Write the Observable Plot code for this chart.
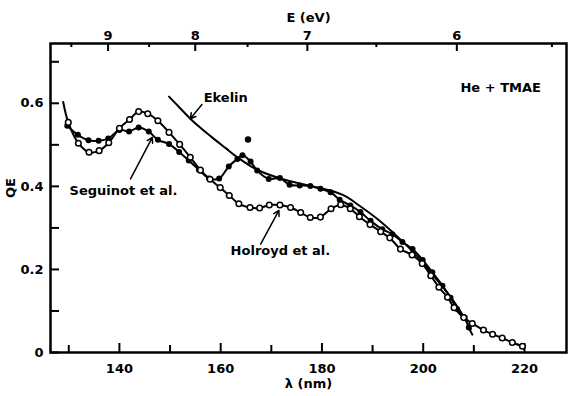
<!DOCTYPE html>
<html>
<head>
<meta charset="utf-8">
<script src="https://cdn.jsdelivr.net/npm/d3@7"></script>
<script src="https://cdn.jsdelivr.net/npm/@observablehq/plot@0.6"></script>
<style>
  html, body { margin: 0; padding: 0; background: #fff; }
  #chart svg { display: block; }
</style>
</head>
<body>
<div id="chart"></div>
<script>
// ---- data ----
const hc = 1239.84; // eV·nm, converts photon energy to wavelength

// Holroyd et al. (open circles); first point is the line lead-in without marker
const holroydLambda = [128.9, 129.9, 131.9, 134.0, 136.0, 137.9, 140.0, 142.0, 143.8, 145.6, 147.6, 149.8, 151.9, 154.0, 156.0, 157.9, 159.9, 161.7, 163.6, 165.8, 167.7, 169.6, 171.7, 173.8, 175.8, 177.7, 179.7, 181.8, 183.7, 185.6, 187.4, 189.5, 191.6, 193.4, 195.5, 197.8, 199.8, 201.5, 203.1, 204.8, 206.1, 208.0, 209.7, 211.9, 213.7, 215.6, 217.6, 219.6];
const holroydQE     = [0.603, 0.554, 0.504, 0.482, 0.486, 0.505, 0.540, 0.561, 0.580, 0.575, 0.558, 0.530, 0.501, 0.470, 0.439, 0.417, 0.397, 0.378, 0.358, 0.349, 0.348, 0.355, 0.355, 0.349, 0.337, 0.325, 0.326, 0.346, 0.356, 0.346, 0.327, 0.308, 0.291, 0.276, 0.249, 0.235, 0.214, 0.185, 0.157, 0.133, 0.108, 0.084, 0.070, 0.054, 0.044, 0.035, 0.024, 0.015];

// Seguinot et al. (filled dots); last point is the line end without marker
const seguinotLambda = [129.7, 131.8, 133.9, 135.9, 137.8, 140.0, 141.9, 143.8, 145.8, 147.6, 149.8, 151.8, 153.7, 155.7, 157.7, 159.7, 161.6, 163.3, 164.3, 165.9, 167.2, 169.5, 171.7, 173.6, 175.6, 177.7, 179.7, 181.7, 183.5, 185.6, 187.6, 189.6, 191.9, 193.9, 195.9, 197.9, 199.9, 201.8, 203.8, 205.4, 206.7, 208.2, 209.0, 209.7];
const seguinotQE     = [0.546, 0.524, 0.511, 0.510, 0.515, 0.536, 0.532, 0.542, 0.532, 0.512, 0.502, 0.483, 0.462, 0.440, 0.419, 0.419, 0.448, 0.466, 0.475, 0.460, 0.438, 0.418, 0.420, 0.404, 0.402, 0.401, 0.394, 0.386, 0.368, 0.354, 0.338, 0.317, 0.297, 0.285, 0.266, 0.249, 0.223, 0.193, 0.161, 0.132, 0.105, 0.084, 0.060, 0.043];

// isolated Seguinot point above the curve
const strayLambda = [165.4];
const strayQE     = [0.513];

// Ekelin (smooth line, no markers)
const ekelinLambda = [149.8, 152.1, 154.0, 156.0, 158.6, 161.0, 163.3, 167.2, 171.8, 177.1, 181.7, 184.7, 187.0, 190.9, 194.9, 198.8, 202.1, 205.4, 207.4, 209.4];
const ekelinQE     = [0.616, 0.587, 0.563, 0.541, 0.515, 0.492, 0.470, 0.440, 0.419, 0.403, 0.390, 0.376, 0.357, 0.322, 0.279, 0.232, 0.184, 0.134, 0.098, 0.056];

// axes
const xTicksMajor = [140, 160, 180, 200, 220];
const xTicksMinor = [130, 150, 170, 190, 210];
const yTickLabels = [0, 0.2, 0.4, 0.6];
const yTicksAll   = [0, 0.1, 0.2, 0.3, 0.4, 0.5, 0.6, 0.7];
const eTicksMajor = [9, 8, 7, 6];
const eTicksMinor = [9.5, 8.5, 7.5, 6.5, 5.5];

// annotations (data coordinates: wavelength nm, QE)
const labelText   = ["Ekelin", "He + TMAE", "Seguinot et al.", "Holroyd et al."];
const labelLambda = [161.0, 215.3, 140.8, 171.8];
const labelQE     = [0.614, 0.638, 0.390, 0.245];
const arrowFromLambda = [156.3, 142.2, 167.9];
const arrowFromQE     = [0.597, 0.418, 0.261];
const arrowToLambda   = [154.0, 146.5, 171.5];
const arrowToQE       = [0.563, 0.518, 0.342];

// ---- build tables ----
const zip = (xs, ys) => xs.map((x, i) => ({x, y: ys[i]}));
const holroyd  = zip(holroydLambda, holroydQE);
const seguinot = zip(seguinotLambda, seguinotQE);
const stray    = zip(strayLambda, strayQE);
const ekelin   = zip(ekelinLambda, ekelinQE);
const labels   = labelText.map((t, i) => ({t, x: labelLambda[i], y: labelQE[i]}));
const arrows   = arrowFromLambda.map((x1, i) => ({x1, y1: arrowFromQE[i], x2: arrowToLambda[i], y2: arrowToQE[i]}));

const W = 574, H = 396;
const mL = 50, mR = 8, mT = 43, mB = 44;
const pw = W - mL - mR, ph = H - mT - mB;
const FONT = "'DejaVu Sans', 'Liberation Sans', sans-serif";

const chart = Plot.plot({
  width: W,
  height: H,
  marginLeft: mL,
  marginRight: mR,
  marginTop: mT,
  marginBottom: mB,
  style: {fontFamily: FONT, fontSize: "13px", fontWeight: "bold", background: "#fff", color: "#000"},
  x: {domain: [126.39, 228.3], ticks: xTicksMajor, tickSize: 0, tickPadding: 11, tickFormat: d => String(d), label: null},
  y: {domain: [0, 0.744], ticks: yTickLabels, tickSize: 0, tickPadding: 7, tickFormat: d => d === 0 ? "0" : d.toFixed(1), label: null},
  marks: [
    // inward ticks
    Plot.tickX(xTicksMajor, {x: d => d, insetTop: ph - 9, stroke: "#000", strokeWidth: 2}),
    Plot.tickX(xTicksMinor, {x: d => d, insetTop: ph - 7, stroke: "#000", strokeWidth: 2}),
    Plot.tickY(yTicksAll, {y: d => d, insetRight: pw - 9, stroke: "#000", strokeWidth: 2}),
    Plot.tickX(eTicksMajor, {x: e => hc / e, insetBottom: ph - 8, stroke: "#000", strokeWidth: 2}),
    Plot.tickX(eTicksMinor, {x: e => hc / e, insetBottom: ph - 4, stroke: "#000", strokeWidth: 2}),
    // top energy axis labels and axis titles
    Plot.text(eTicksMajor, {x: e => hc / e, frameAnchor: "top", dy: -13, text: d => String(d), fontSize: 13, fontWeight: "bold"}),
    Plot.text(["E (eV)"], {frameAnchor: "top", dy: -31, fontSize: 13, fontWeight: "bold"}),
    Plot.text(["λ (nm)"], {frameAnchor: "bottom", dy: 35, fontSize: 13, fontWeight: "bold"}),
    Plot.text(["QE"], {frameAnchor: "left", dx: -40, rotate: -90, fontSize: 13, fontWeight: "bold"}),
    // curves
    Plot.line(ekelin, {x: "x", y: "y", curve: "catmull-rom", stroke: "#000", strokeWidth: 2}),
    Plot.line(seguinot, {x: "x", y: "y", curve: "catmull-rom", stroke: "#000", strokeWidth: 2}),
    Plot.line(holroyd, {x: "x", y: "y", curve: "catmull-rom", stroke: "#000", strokeWidth: 2}),
    Plot.dot(seguinot.slice(0, -1), {x: "x", y: "y", r: 3, fill: "#000", stroke: "none"}),
    Plot.dot(stray, {x: "x", y: "y", r: 3.2, fill: "#000", stroke: "none"}),
    Plot.dot(holroyd.slice(1), {x: "x", y: "y", r: 2.8, fill: "#fff", stroke: "#000", strokeWidth: 1.5}),
    // annotations
    Plot.arrow(arrows, {x1: "x1", y1: "y1", x2: "x2", y2: "y2", stroke: "#000", strokeWidth: 1.5, headLength: 6}),
    Plot.text(labels, {x: "x", y: "y", text: "t", fontSize: 13, fontWeight: "bold", fill: "#000"}),
    Plot.frame({stroke: "#000", strokeWidth: 2.5})
  ]
});
document.getElementById("chart").appendChild(chart);
</script>
</body>
</html>
